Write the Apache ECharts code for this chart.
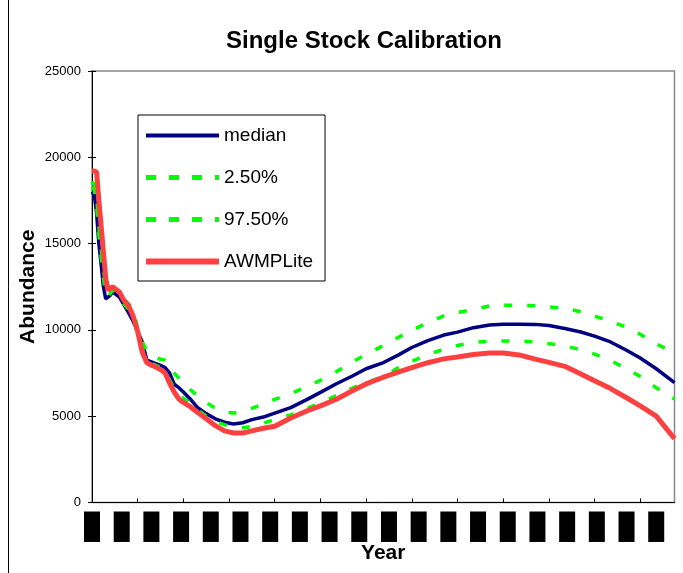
<!DOCTYPE html>
<html>
<head>
<meta charset="utf-8">
<script src="https://cdn.jsdelivr.net/npm/echarts@6/dist/echarts.min.js"></script>
<style>
  html, body { margin: 0; padding: 0; background: #fff; }
  #chart { width: 683px; height: 573px; }
</style>
</head>
<body>
<div id="chart"></div>
<script>
// year labels under the axis (shown as solid black blocks in the source)
var yearLabels = ['1990', '1991', '1992', '1993', '1994', '1995', '1996', '1997', '1998', '1999',
                  '2000', '2001', '2002', '2003', '2004', '2005', '2006', '2007', '2008', '2009'];
var stepCount = 256;      // time steps on the category axis
var labelEvery = 13;      // a year label every 13 steps
var tickEvery = 20;       // a tick mark every 20 steps

// step index of every sampled point
var sampleIdx = [0, 1, 2, 3, 4, 5, 6, 7, 8, 9, 10, 12, 14, 16, 18, 20, 22, 24, 26, 28, 30, 32, 34, 36, 38, 40,
                 43, 46, 50, 54, 58, 62, 66, 70, 75, 80, 87, 94, 100, 107, 114, 120, 127, 134, 140, 147, 154,
                 160, 167, 174, 180, 187, 194, 200, 207, 214, 220, 227, 234, 240, 247, 255];

var median = [18000, 17800, 16800, 15000, 13800, 12500, 11800, 11900, 12000, 12200, 12100, 11900, 11450, 11000,
              10500, 9900, 9300, 8250, 8150, 8050, 7950, 7820, 7500, 6850, 6650, 6400, 6000, 5520, 5150, 4850,
              4650, 4550, 4620, 4800, 4950, 5180, 5500, 5960, 6380, 6880, 7330, 7750, 8070, 8540, 8980, 9380,
              9700, 9870, 10130, 10280, 10330, 10330, 10320, 10250, 10080, 9880, 9640, 9300, 8820, 8370, 7750, 6950];

var low25 = [18300, 18100, 17200, 15500, 14200, 13000, 12100, 11900, 12100, 12300, 12200, 11900, 11500, 11200,
             10600, 9800, 8900, 8200, 8050, 7950, 7800, 7650, 7100, 6600, 6250, 6050, 5750, 5400, 5000, 4700,
             4500, 4380, 4330, 4400, 4600, 4800, 5080, 5450, 5760, 6200, 6630, 6940, 7270, 7800, 8180, 8570,
             8880, 9100, 9280, 9340, 9360, 9360, 9300, 9200, 9070, 8850, 8600, 8230, 7750, 7300, 6650, 6000];

var high975 = [18600, 18400, 17800, 16000, 14700, 13500, 12600, 12200, 12400, 12500, 12400, 12000, 11800, 11500,
               11200, 10100, 9300, 8800, 8600, 8400, 8300, 8250, 7900, 7500, 7200, 6900, 6550, 6200, 5800, 5450,
               5250, 5180, 5250, 5450, 5700, 5980, 6300, 6720, 7080, 7580, 8150, 8570, 9060, 9560, 9970, 10420,
               10810, 11010, 11180, 11390, 11420, 11440, 11400, 11330, 11260, 11050, 10800, 10500, 10150, 9750, 9200, 8650];

var awmpLite = [19200, 19200, 19150, 17500, 16000, 14500, 13000, 12300, 12400, 12500, 12400, 12200, 11700, 11400,
                10800, 9900, 8700, 8100, 7950, 7850, 7700, 7500, 6900, 6400, 6000, 5800, 5550, 5250, 4850, 4450,
                4150, 4030, 4030, 4150, 4300, 4420, 4900, 5300, 5600, 5980, 6470, 6870, 7230, 7550, 7820, 8100,
                8320, 8430, 8580, 8660, 8660, 8550, 8310, 8120, 7890, 7450, 7050, 6600, 6070, 5600, 5000, 3700];

var categories = [];
for (var i = 0; i < stepCount; i++) {
    categories.push(i % labelEvery === 0 ? (yearLabels[i / labelEvery] || '') : '');
}

function pairs(vals) {
    return sampleIdx.map(function (x, k) { return [x, vals[k]]; });
}

var font = 'Liberation Sans, Arial, sans-serif';
var myChart = echarts.init(document.getElementById('chart'));

myChart.setOption({
    animation: false,
    backgroundColor: '#fff',
    textStyle: { fontFamily: font },
    title: {
        text: 'Single Stock Calibration',
        left: 359,
        textAlign: 'center',
        top: 24,
        textStyle: { fontSize: 24, fontWeight: 'bold', color: '#000', fontFamily: font }
    },
    legend: {
        orient: 'vertical',
        left: 138,
        top: 115,
        padding: [11, 12, 10, 5],
        itemWidth: 73,
        itemHeight: 14,
        itemGap: 23,
        borderColor: '#000',
        borderWidth: 1,
        itemStyle: { opacity: 0 },
        textStyle: { fontSize: 19, color: '#000', fontFamily: font },
        data: [
            { name: 'median', lineStyle: { width: 4 } },
            { name: '2.50%', lineStyle: { width: 5, type: [10, 13] } },
            { name: '97.50%', lineStyle: { width: 5, type: [10, 13] } },
            { name: 'AWMPLite', lineStyle: { width: 6 } }
        ]
    },
    grid: {
        left: 92,
        right: 8.5,
        top: 71,
        bottom: 70.5,
        show: true,
        borderColor: '#888',
        borderWidth: 1.5,
        outerBoundsMode: 'none'
    },
    graphic: [{
        type: 'line',
        shape: { x1: 8.5, y1: 0, x2: 8.5, y2: 573 },
        style: { stroke: '#000', lineWidth: 1 },
        silent: true
    }],
    xAxis: {
        type: 'category',
        data: categories,
        boundaryGap: false,
        name: 'Year',
        nameLocation: 'middle',
        nameMoveOverlap: false,
        nameGap: 40,
        nameTextStyle: { fontSize: 21, fontWeight: 'bold', color: '#000', fontFamily: font },
        axisLine: { lineStyle: { color: '#000', width: 1 } },
        axisTick: { inside: true, length: 4, interval: tickEvery - 1, lineStyle: { color: '#000' } },
        axisLabel: {
            interval: labelEvery - 1,
            rotate: 90,
            margin: 9,
            fontSize: 11,
            lineHeight: 12,
            padding: [2, 3],
            color: '#000',
            backgroundColor: '#000'
        },
        splitLine: { show: false }
    },
    yAxis: [{
        type: 'value',
        min: 0,
        max: 25000,
        interval: 5000,
        name: 'Abundance',
        nameLocation: 'middle',
        nameMoveOverlap: false,
        nameGap: 53,
        nameTextStyle: { fontSize: 21, fontWeight: 'bold', color: '#000', fontFamily: font },
        axisLine: { show: true, lineStyle: { color: '#000', width: 1 } },
        axisTick: { show: true, length: 4, lineStyle: { color: '#000' } },
        axisLabel: {
            fontSize: 13,
            color: '#000',
            margin: 11,
            formatter: function (v) { return String(v); }
        },
        splitLine: { show: false }
    }, {
        type: 'value',
        min: 0,
        max: 25000,
        interval: 5000,
        position: 'left',
        axisLine: { show: false },
        axisTick: { show: true, inside: true, length: 4, lineStyle: { color: '#000' } },
        axisLabel: { show: false },
        splitLine: { show: false }
    }],
    series: [{
        name: 'median',
        type: 'line',
        symbol: 'none',
        data: pairs(median),
        lineStyle: { color: '#000080', width: 3.5 },
        itemStyle: { color: '#000080' },
        z: 2
    }, {
        name: '2.50%',
        type: 'line',
        symbol: 'none',
        data: pairs(low25),
        lineStyle: { color: '#00ff00', width: 3.5, type: [8, 15] },
        itemStyle: { color: '#00ff00' },
        z: 3
    }, {
        name: '97.50%',
        type: 'line',
        symbol: 'none',
        data: pairs(high975),
        lineStyle: { color: '#00ff00', width: 3.5, type: [8, 15] },
        itemStyle: { color: '#00ff00' },
        z: 3
    }, {
        name: 'AWMPLite',
        type: 'line',
        symbol: 'none',
        data: pairs(awmpLite),
        lineStyle: { color: '#ff4040', width: 5 },
        itemStyle: { color: '#ff4040' },
        z: 4
    }]
});
</script>
</body>
</html>
